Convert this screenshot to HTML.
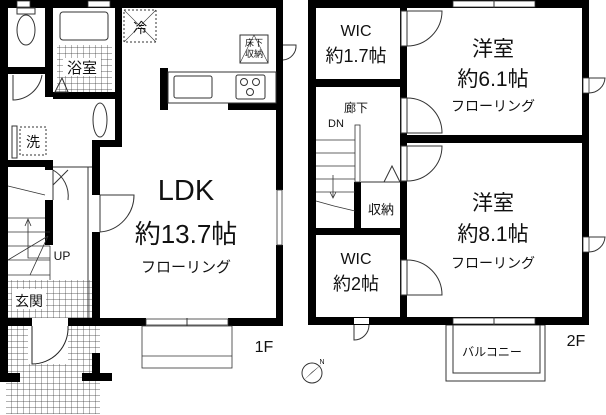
<!DOCTYPE html>
<html><head><meta charset="utf-8"><style>
html,body{margin:0;padding:0;background:#fff;width:606px;height:415px;overflow:hidden}
svg{display:block}
text{font-family:"Liberation Sans","Noto Sans CJK JP",sans-serif;fill:#111;text-anchor:middle}
</style></head><body>
<svg width="606" height="415" viewBox="0 0 606 415" xmlns="http://www.w3.org/2000/svg">
<defs>
<pattern id="g" width="6" height="6" patternUnits="userSpaceOnUse"><path d="M6 0V6H0" fill="none" stroke="#333" stroke-width="0.7"/></pattern>
</defs>
<!-- ===== 1F ===== -->
<!-- porch grid -->
<rect x="6" y="326" width="94" height="88" fill="url(#g)"/>
<rect x="6" y="383" width="0" height="0"/>
<rect x="8" y="280" width="84" height="38" fill="url(#g)"/>
<rect x="28" y="326" width="40" height="38" fill="#fff"/>
<path d="M32 326V364A36 36 0 0 0 68 326" fill="#fff" stroke="#222" stroke-width="1"/>
<g fill="#000">
<rect x="0" y="0" width="8" height="382"/>
<rect x="0" y="0" width="283" height="8"/>
<rect x="276" y="0" width="7" height="190"/>
<rect x="276" y="245" width="7" height="81"/>
<rect x="0" y="318" width="32" height="8"/>
<rect x="68" y="318" width="78" height="8"/>
<rect x="228" y="318" width="55" height="8"/>
<rect x="0" y="373" width="20" height="9"/>
<rect x="82" y="373" width="30" height="8"/>
<rect x="92" y="353" width="8" height="25"/>
<rect x="45" y="0" width="8" height="97"/>
<rect x="8" y="67" width="37" height="7"/>
<rect x="53" y="92" width="62" height="7"/>
<rect x="115" y="0" width="7" height="147"/>
<rect x="92" y="140" width="30" height="7"/>
<rect x="92" y="140" width="8" height="55"/>
<rect x="92" y="232" width="8" height="86"/>
<rect x="8" y="160" width="45" height="7"/>
<rect x="45" y="160" width="8" height="10"/>
<rect x="45" y="200" width="8" height="45"/>
<rect x="160" y="68" width="8" height="42"/>
<rect x="228" y="103" width="48" height="7"/>
</g>
<!-- top windows -->
<rect x="17" y="1" width="13" height="6" fill="#fff" stroke="#333" stroke-width=".8"/>
<rect x="88" y="1" width="22" height="6" fill="#fff" stroke="#333" stroke-width=".8"/>
<!-- LDK bottom window -->
<rect x="146" y="319" width="82" height="6" fill="#fff" stroke="#333" stroke-width=".8"/>
<line x1="187" y1="318" x2="187" y2="326" stroke="#333"/>
<rect x="142" y="326" width="90" height="42" fill="#fff" stroke="#333" stroke-width=".8"/>
<line x1="142" y1="356" x2="232" y2="356" stroke="#333" stroke-width=".8"/>
<!-- right window -->
<rect x="277" y="190" width="5" height="55" fill="#fff" stroke="#333" stroke-width=".8"/>
<!-- toilet -->
<rect x="17" y="8" width="18" height="6" fill="none" stroke="#333"/>
<ellipse cx="26" cy="30" rx="9" ry="15" fill="none" stroke="#333"/>
<path d="M13 75V100A30 30 0 0 0 42 75" fill="none" stroke="#333"/>
<!-- bath -->
<rect x="60" y="12" width="48" height="28" rx="3" fill="none" stroke="#333"/>
<rect x="57" y="45" width="55" height="47" fill="url(#g)"/>
<rect x="63" y="58" width="38" height="18" fill="#fff"/>
<text x="82" y="73" font-size="15">浴室</text>
<path d="M55 92L62 78L68 92Z" fill="none" stroke="#333"/>
<ellipse cx="100" cy="120" rx="7" ry="17" fill="none" stroke="#333"/>
<!-- fridge -->
<rect x="124" y="10" width="32" height="32" fill="none" stroke="#333" stroke-dasharray="2,2"/>
<path d="M124 10L156 42M156 10L124 42" stroke="#333" stroke-width=".6"/>
<text x="140" y="33" font-size="14">冷</text>
<!-- floor storage -->
<rect x="240" y="35" width="28" height="28" fill="#fff" stroke="#333"/>
<path d="M240 63L254 35L268 63" fill="none" stroke="#333" stroke-width=".6"/>
<text x="254" y="46" font-size="9">床下</text>
<text x="254" y="57" font-size="9">収納</text>
<path d="M283 45H296A14 14 0 0 1 283 60" fill="none" stroke="#333"/>
<!-- kitchen -->
<rect x="168" y="72" width="108" height="31" fill="none" stroke="#333"/>
<rect x="174" y="76" width="38" height="22" rx="2" fill="none" stroke="#333"/>
<rect x="236" y="75" width="29" height="24" rx="2" fill="none" stroke="#333"/>
<circle cx="244" cy="82" r="3.5" fill="none" stroke="#333"/><circle cx="256" cy="82" r="3.5" fill="none" stroke="#333"/><circle cx="250" cy="92" r="3.5" fill="none" stroke="#333"/>
<!-- wash -->
<rect x="12" y="126" width="5" height="32" fill="none" stroke="#333"/>
<rect x="20" y="127" width="26" height="28" fill="none" stroke="#333" stroke-dasharray="2,2"/>
<text x="33" y="147" font-size="14">洗</text>
<!-- doors -->
<path d="M53 170V200M53 170A30 30 0 0 1 68 200M68 170L53 185" fill="none" stroke="#333"/>
<path d="M100 195V232A37 37 0 0 0 134 195H100" fill="none" stroke="#333"/>
<line x1="53" y1="167" x2="92" y2="167" stroke="#333"/>
<line x1="88" y1="167" x2="88" y2="318" stroke="#333"/>
<!-- stairs -->
<g stroke="#333" fill="none" stroke-width=".8">
<line x1="8" y1="186" x2="45" y2="195"/>
<line x1="8" y1="218" x2="45" y2="218"/>
<line x1="8" y1="232" x2="50" y2="232"/>
<line x1="8" y1="246" x2="50" y2="246"/>
<line x1="8" y1="260" x2="50" y2="260"/>
<line x1="8" y1="275" x2="50" y2="275"/>
<line x1="8" y1="260" x2="48" y2="236"/>
<line x1="30" y1="275" x2="48" y2="236"/>
<path d="M28 220V258H50"/>
<path d="M25 226L28 219L31 226"/>
<line x1="50" y1="246" x2="50" y2="280"/>
</g>
<text x="62" y="260" font-size="12">UP</text>
<rect x="12" y="289" width="34" height="20" fill="#fff"/>
<text x="29" y="306" font-size="14">玄関</text>
<text x="186" y="200" font-size="29">LDK</text>
<text x="186" y="243" font-size="26">約13.7帖</text>
<text x="186" y="272" font-size="15">フローリング</text>
<text x="264" y="352" font-size="16">1F</text>
<!-- compass -->
<circle cx="312" cy="373" r="10" fill="none" stroke="#333"/>
<path d="M322 364L304 380L312 372Z" fill="#111"/>
<text x="322" y="364" font-size="7">N</text>

<!-- ===== 2F ===== -->
<rect x="446" y="325" width="99" height="56" fill="#fff" stroke="#333"/>
<rect x="453" y="325" width="87" height="48" fill="none" stroke="#333"/>
<g fill="#000">
<rect x="308" y="0" width="281" height="8"/>
<rect x="308" y="317" width="281" height="8"/>
<rect x="308" y="0" width="8" height="325"/>
<rect x="582" y="0" width="7" height="325"/>
<rect x="400" y="0" width="7" height="325"/>
<rect x="400" y="135" width="189" height="8"/>
<rect x="308" y="79" width="92" height="8"/>
<rect x="308" y="228" width="92" height="7"/>
<rect x="354" y="182" width="7" height="46"/>
</g>
<rect x="453" y="1" width="82" height="6" fill="#fff" stroke="#333" stroke-width=".8"/>
<line x1="494" y1="0" x2="494" y2="8" stroke="#333"/>
<rect x="453" y="318" width="82" height="6" fill="#fff" stroke="#333" stroke-width=".8"/>
<line x1="494" y1="317" x2="494" y2="325" stroke="#333"/>
<rect x="583" y="78" width="6" height="15" fill="#fff" stroke="#333" stroke-width=".8"/>
<path d="M589 78H605A16 16 0 0 1 589 93" fill="none" stroke="#333"/>
<rect x="583" y="237" width="6" height="15" fill="#fff" stroke="#333" stroke-width=".8"/>
<path d="M589 237H605A16 16 0 0 1 589 252" fill="none" stroke="#333"/>
<rect x="354" y="318" width="15" height="6" fill="#fff"/>
<path d="M354 325V340A15 15 0 0 0 369 325" fill="none" stroke="#333"/>
<!-- doors 2F -->
<g fill="#fff" stroke="#333">
<rect x="401" y="11" width="6" height="35"/>
<rect x="401" y="98" width="6" height="35"/>
<rect x="401" y="146" width="6" height="35"/>
<rect x="401" y="260" width="6" height="35"/>
</g>
<g fill="none" stroke="#333">
<path d="M407 11H442A35 35 0 0 1 407 46"/>
<path d="M407 98A35 35 0 0 1 442 133H407"/>
<path d="M407 146H442A35 35 0 0 1 407 181"/>
<path d="M407 260A35 35 0 0 1 442 295H407"/>
<path d="M384 182L392 166L400 182"/>
<line x1="361" y1="182" x2="400" y2="182"/>
</g>
<!-- stairs 2F -->
<g stroke="#333" fill="none" stroke-width=".8">
<rect x="355" y="125" width="5" height="57"/>
<line x1="316" y1="140" x2="355" y2="140"/>
<line x1="316" y1="153" x2="355" y2="153"/>
<line x1="316" y1="166" x2="355" y2="166"/>
<line x1="316" y1="179" x2="355" y2="179"/>
<line x1="316" y1="192" x2="355" y2="192"/>
<line x1="316" y1="201" x2="334" y2="206"/>
<line x1="334" y1="206" x2="355" y2="211"/>
<line x1="333" y1="175" x2="333" y2="198"/>
<path d="M330 192L333 198L336 192"/>
</g>
<text x="356" y="36" font-size="16">WIC</text>
<text x="356" y="62" font-size="18">約1.7帖</text>
<text x="493" y="56" font-size="21">洋室</text>
<text x="493" y="86" font-size="21">約6.1帖</text>
<text x="493" y="111" font-size="14">フローリング</text>
<text x="356" y="112" font-size="12">廊下</text>
<text x="336" y="127" font-size="11">DN</text>
<text x="381" y="214" font-size="13">収納</text>
<text x="493" y="210" font-size="21">洋室</text>
<text x="493" y="241" font-size="21">約8.1帖</text>
<text x="493" y="268" font-size="14">フローリング</text>
<text x="356" y="264" font-size="16">WIC</text>
<text x="356" y="290" font-size="18">約2帖</text>
<text x="492" y="356" font-size="12">バルコニー</text>
<text x="576" y="346" font-size="16">2F</text>
</svg>
</body></html>
